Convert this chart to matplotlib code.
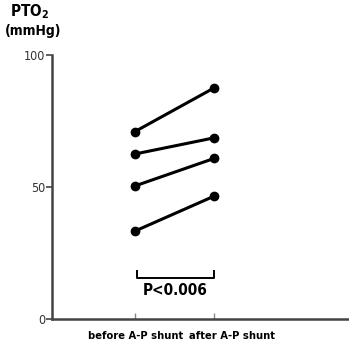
import matplotlib.pyplot as plt

# data
groups = ['before A-P shunt', 'after A-P shunt']
before = [71.0, 62.5, 50.4, 33.3]
after = [87.5, 68.6, 60.8, 46.5]
yticks = [0, 50, 100]
p_text = 'P<0.006'

plt.rcParams['font.family'] = ['DejaVu Sans']
plt.rcParams['font.stretch'] = 'condensed'

fig = plt.figure(figsize=(3.49, 3.47), dpi=100)
ax = fig.add_axes([52 / 349, 28 / 347, 297 / 349, 264 / 347])

for b, a in zip(before, after):
    ax.plot([0, 1], [b, a], '-o', color='black', lw=2.2, markersize=6)

ax.set_xlim(-1.05, 2.71)
ax.set_ylim(0, 100)
for s in ['top', 'right']:
    ax.spines[s].set_visible(False)
for s in ['left', 'bottom']:
    ax.spines[s].set_color('#444444')
    ax.spines[s].set_linewidth(1.8)

ax.set_yticks(yticks)
ax.set_yticklabels([str(v) for v in yticks], fontsize=9, color='#333333')
ax.tick_params(axis='y', direction='out', length=4, width=1.2, color='#444444', pad=1)
ax.set_xticks([0, 1])
ax.set_xticklabels(['', ''])
ax.tick_params(axis='x', direction='in', length=4, width=1, color='#888888')

# group labels under the axis
ax.text(-0.6, -0.045, groups[0], transform=ax.get_xaxis_transform(),
        ha='left', va='top', fontsize=8, fontweight='bold')
ax.text(0.69, -0.045, groups[1], transform=ax.get_xaxis_transform(),
        ha='left', va='top', fontsize=8, fontweight='bold')

# significance bracket
yb = 15.5
ax.plot([0.02, 0.02, 1.0, 1.0], [yb + 2.5, yb, yb, yb + 2.5], color='black', lw=1.4)
ax.text(0.51, yb - 2.0, p_text, ha='center', va='top', fontsize=11, fontweight='bold')

# axis title
fig.text(30 / 349, 1 - 12 / 347, 'PTO$_\\mathbf{2}$', ha='center', va='center',
         fontsize=11, fontweight='bold')
fig.text(33 / 349, 1 - 31 / 347, '(mmHg)', ha='center', va='center',
         fontsize=10, fontweight='bold')

fig.savefig('out.png', dpi=100)
